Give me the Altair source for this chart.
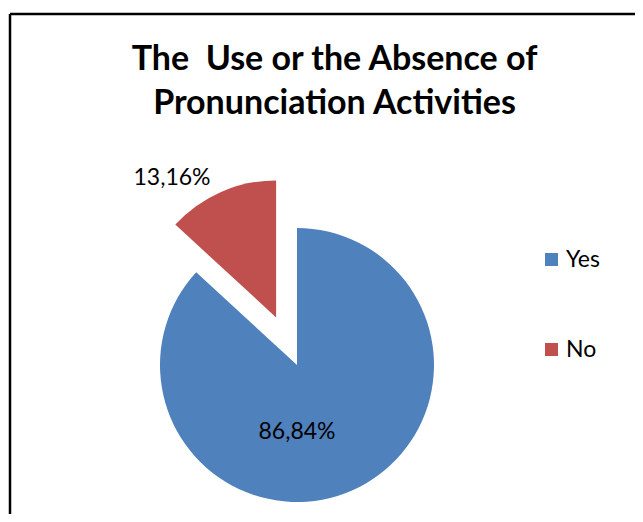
import math
import altair as alt
import pandas as pd

# ---- data ----
categories = ["Yes", "No"]
percents = [86.84, 13.16]
label_texts = ["86,84%", "13,16%"]
colors = ["#4F81BD", "#C0504D"]
title_lines = ["The\u00a0 Use or the Absence of", "Pronunciation Activities"]

df = pd.DataFrame({
    "category": categories,
    "value": percents,
    "label": label_texts,
    "order": list(range(len(categories))),
})

# ---- layout ----
W, H = 625, 500
CX, CY = 287, 351
R = 137
EXPLODE = 52

# explosion offset for the "No" slice from its mid angle
before = sum(percents[:1])
mid = (before + percents[1] / 2) / sum(percents) * 2 * math.pi
dx = EXPLODE * math.sin(mid)
dy = -EXPLODE * math.cos(mid)

color = alt.Color(
    "category:N",
    scale=alt.Scale(domain=categories, range=colors),
    legend=alt.Legend(
        title=None,
        orient="none",
        legendX=530,
        legendY=234,
        symbolType="square",
        symbolSize=170,
        symbolStrokeWidth=0,
        labelFont="Lato",
        labelFontSize=23,
        labelColor="black",
        rowPadding=66,
        labelOffset=3,
    ),
)

base = alt.Chart(df).transform_stack(
    stack="value", groupby=[], as_=["start", "end"],
    sort=[alt.SortField("order", order="ascending")],
)
theta = alt.Theta("start:Q", scale=alt.Scale(domain=[0, 100]))

yes_arc = base.transform_filter(alt.datum.category == "Yes").mark_arc(
    radius=R, stroke=None
).encode(theta=theta, theta2="end:Q", color=color,
         x=alt.value(CX), y=alt.value(CY))

no_arc = base.transform_filter(alt.datum.category == "No").mark_arc(
    radius=R, xOffset=dx, yOffset=dy, stroke=None
).encode(theta=theta, theta2="end:Q", color=color,
         x=alt.value(CX), y=alt.value(CY))

yes_label = alt.Chart(df).transform_filter(alt.datum.category == "Yes").mark_text(
    font="Lato", fontSize=23, color="black", dy=67
).encode(text="label:N", x=alt.value(CX), y=alt.value(CY))

no_label = alt.Chart(df).transform_filter(alt.datum.category == "No").mark_text(
    font="Lato", fontSize=23, color="black"
).encode(text="label:N", x=alt.value(162), y=alt.value(164))

frame = pd.DataFrame({"k": [0]})
top_rule = alt.Chart(frame).mark_rule(color="black", strokeWidth=2.5).encode(
    x=alt.value(0), x2=alt.value(W), y=alt.value(0))
left_rule = alt.Chart(frame).mark_rule(color="black", strokeWidth=2.5).encode(
    x=alt.value(0), y=alt.value(0), y2=alt.value(H))

chart = alt.layer(
    top_rule, left_rule, yes_arc, no_arc, yes_label, no_label
).properties(
    width=W,
    height=H,
    autosize=alt.AutoSizeParams(type="none"),
    padding={"left": 2, "top": 6, "right": 0, "bottom": 0},
    title=alt.TitleParams(
        text=title_lines,
        font="Lato",
        fontSize=34,
        fontWeight="bold",
        color="black",
        anchor="middle",
        lineHeight=44,
        dx=12,
        dy=112,
    ),
).configure_view(stroke=None)

chart.save("out.html", embed_options={"renderer": "svg", "actions": False})
